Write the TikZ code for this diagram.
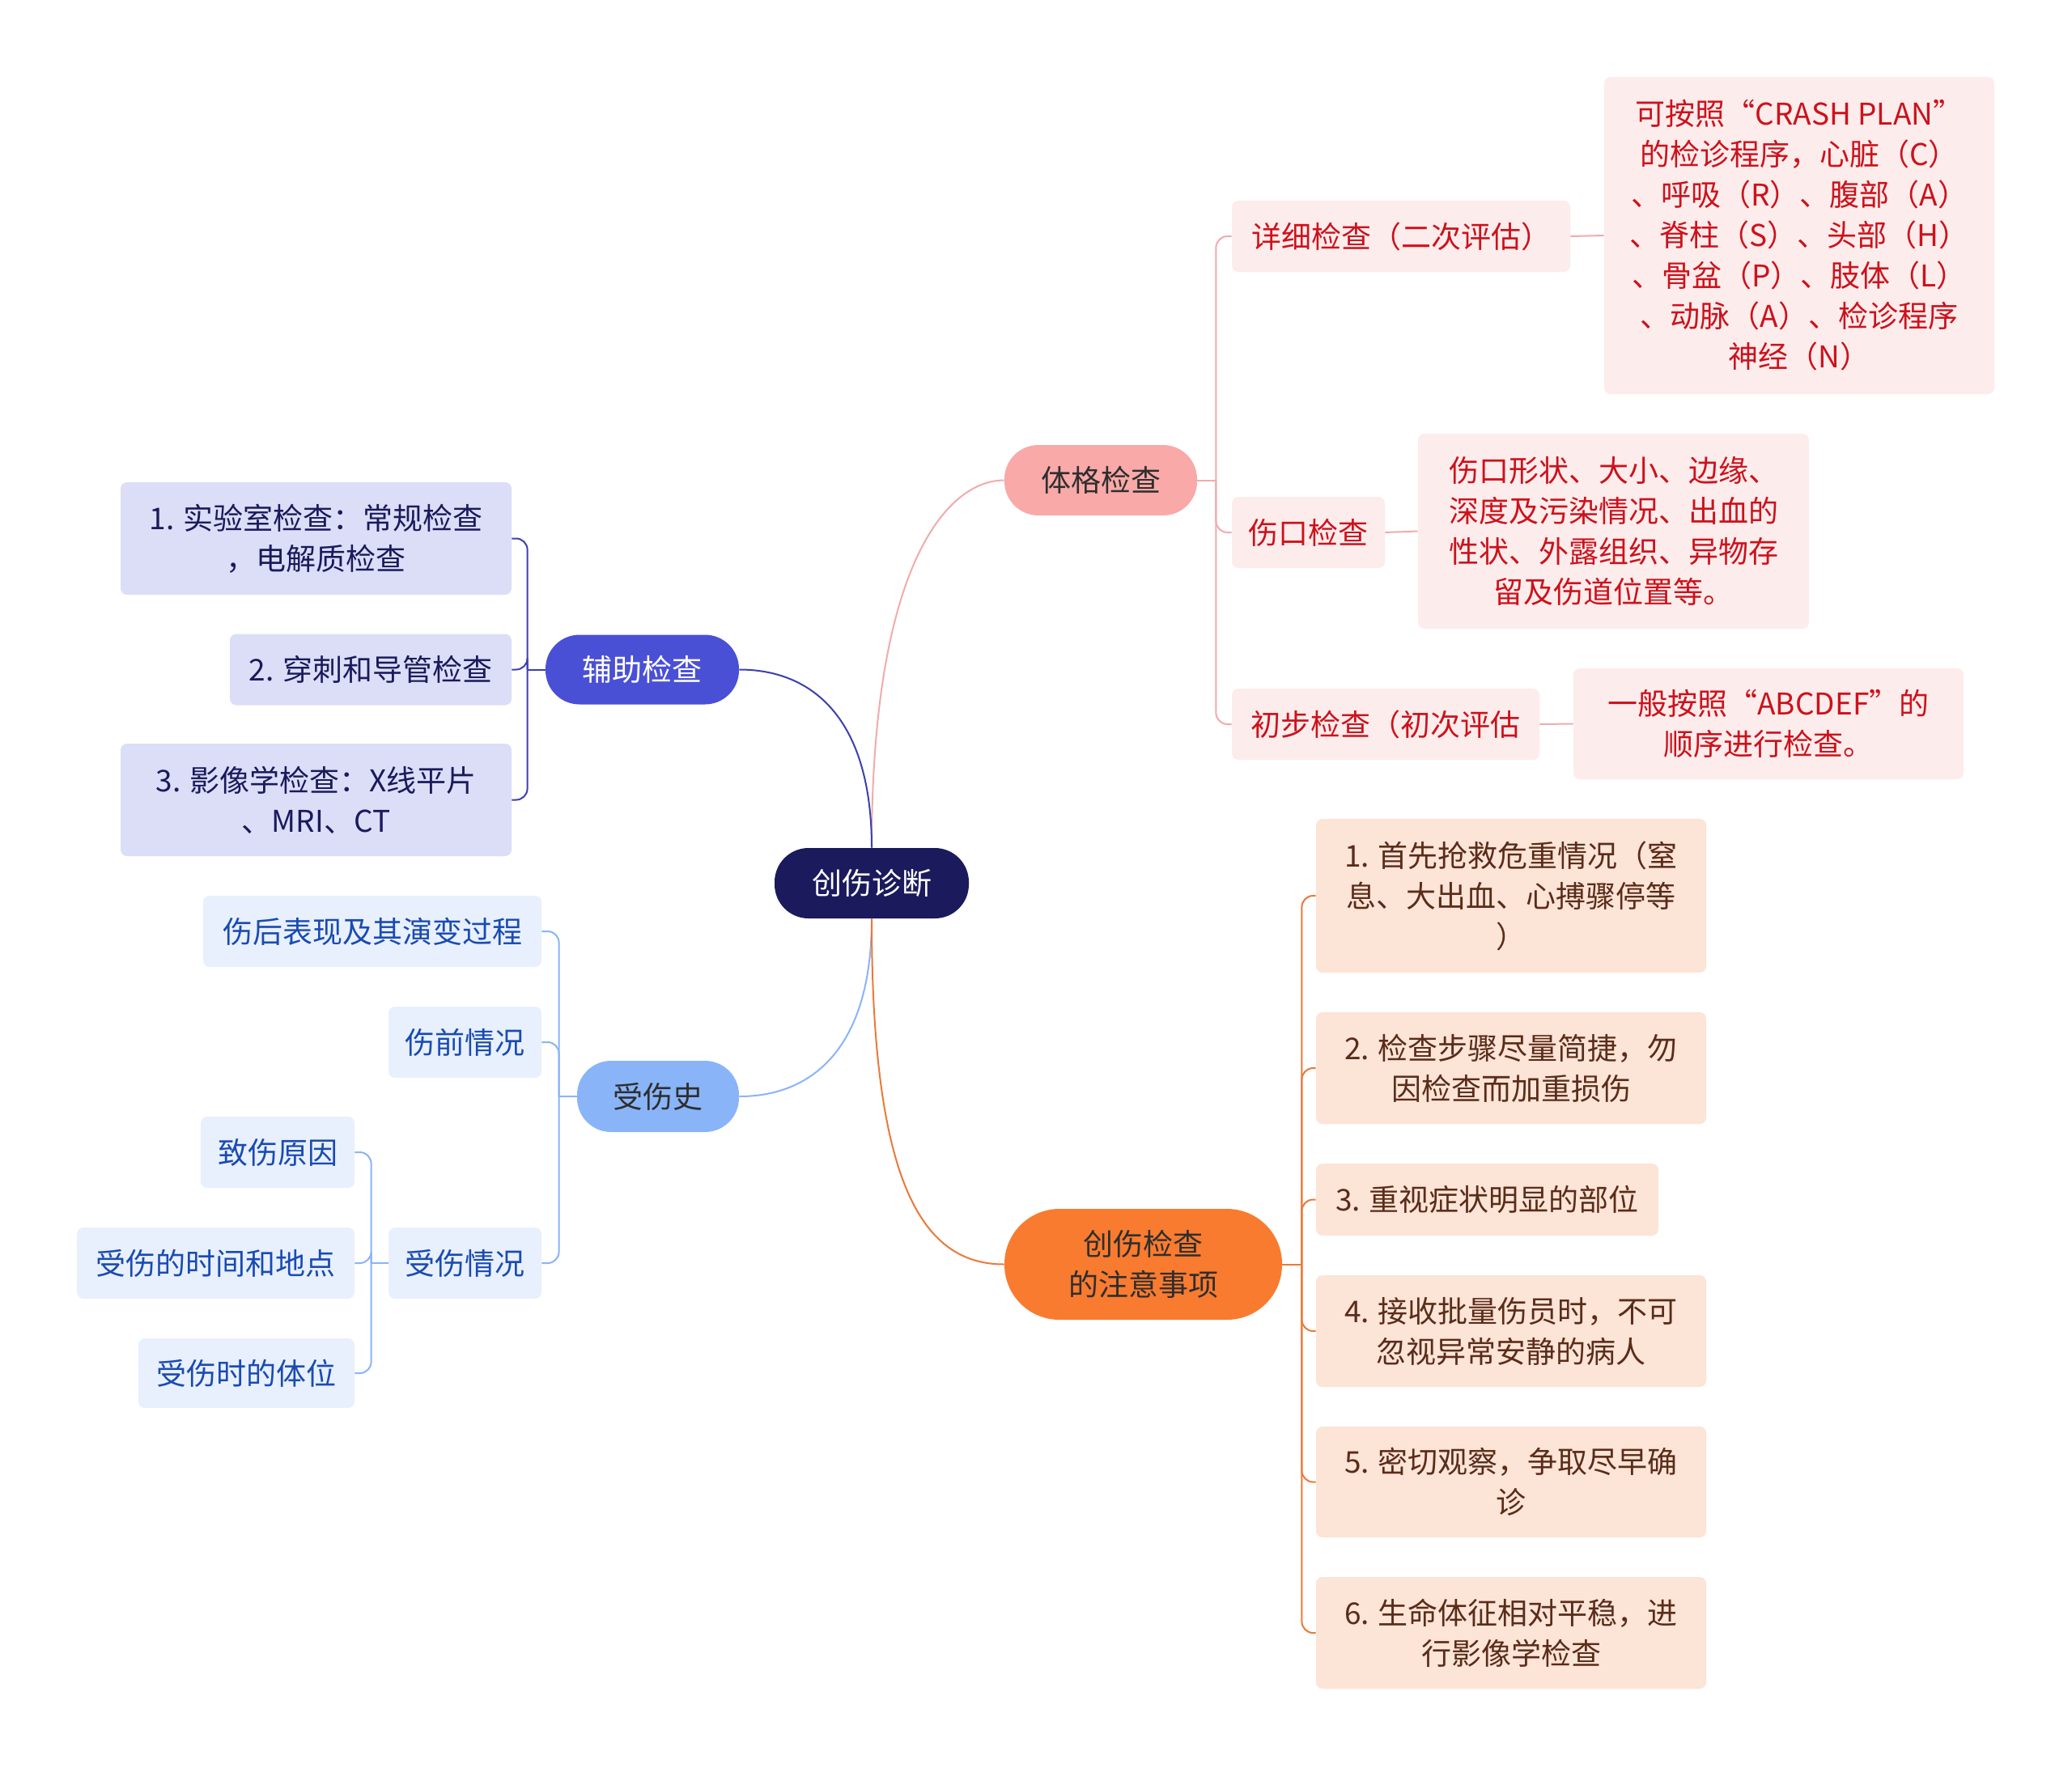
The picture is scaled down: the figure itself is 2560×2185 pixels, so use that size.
\documentclass[tikz,border=0pt]{standalone}
\usepackage{fontspec}
\setmainfont{Noto Sans CJK SC}
\usepackage{xcolor}
\usepackage{tikz}
\usetikzlibrary{positioning}
\definecolor{MapNavy}{HTML}{1B1A5C}
\definecolor{MapInk}{HTML}{2E2E2E}
\definecolor{MapRose}{HTML}{F8A9A8}
\definecolor{MapRoseLine}{HTML}{F2ABAB}
\definecolor{MapRoseFill}{HTML}{FDECEC}
\definecolor{MapRed}{HTML}{CC121C}
\definecolor{MapIndigo}{HTML}{4A50D5}
\definecolor{MapIndigoLine}{HTML}{3C40AE}
\definecolor{MapIndigoFill}{HTML}{DCDEF7}
\definecolor{MapSky}{HTML}{8AB4F8}
\definecolor{MapSkyFill}{HTML}{E8F0FE}
\definecolor{MapBlue}{HTML}{1A4BB0}
\definecolor{MapOrange}{HTML}{F97B2F}
\definecolor{MapOrangeLine}{HTML}{EA7A38}
\definecolor{MapPeach}{HTML}{FCE4D6}
\definecolor{MapBrown}{HTML}{5A2C1A}
\tikzset{
  topic/.style={rounded corners=21pt,align=center,inner sep=0pt,
    font=\fontsize{18.5pt}{25pt}\selectfont},
  leaf/.style={rounded corners=4pt,align=center,inner sep=0pt,
    font=\fontsize{18.5pt}{25pt}\selectfont},
  redleaf/.style={leaf,fill=MapRoseFill,text=MapRed},
  navyleaf/.style={leaf,fill=MapIndigoFill,text=MapNavy},
  blueleaf/.style={leaf,fill=MapSkyFill,text=MapBlue},
  peachleaf/.style={leaf,fill=MapPeach,text=MapBrown},
  link/.style={line width=1pt,rounded corners=7pt},
}
\begin{document}
\begin{tikzpicture}[x=0.5pt,y=-0.5pt]
  \fill[white] (0,0) rectangle (2560,2185);
  \useasboundingbox (0,0) rectangle (2560,2185);
  % main topics
  \node[topic,fill=MapNavy,text=white,minimum width=120pt,minimum height=43.5pt] (root) at (1077,1091.5) {创伤诊断};
  \node[topic,fill=MapRose,text=MapInk,minimum width=119pt,minimum height=43.5pt] (tige) at (1360,593.5) {体格检查};
  \node[topic,fill=MapIndigo,text=white,minimum width=119.5pt,minimum height=43pt] (fuzhu) at (793.5,827.5) {辅助检查};
  \node[topic,fill=MapSky,text=MapInk,minimum width=100pt,minimum height=44pt] (shishi) at (813,1355) {受伤史};
  \node[topic,rounded corners=34pt,fill=MapOrange,text=MapInk,minimum width=171.5pt,minimum height=68.5pt] (zhuyi) at (1412.5,1562.5) {创伤检查\\的注意事项};
  % physical examination
  \node[redleaf,minimum width=209pt,minimum height=44pt] (xiangxi) at (1731,292) {详细检查（二次评估）};
  \node[redleaf,minimum width=241pt,minimum height=196pt] (crash) at (2223,291) {可按照“CRASH PLAN”\\的检诊程序，心脏（C）\\、呼吸（R）、腹部（A）\\、脊柱（S）、头部（H）\\、骨盆（P）、肢体（L）\\、动脉（A）、检诊程序\\神经（N）};
  \node[redleaf,minimum width=94.5pt,minimum height=44pt] (shangkou) at (1616.5,658) {伤口检查};
  \node[redleaf,minimum width=241.5pt,minimum height=120.5pt] (shangkoudesc) at (1993.5,656.5) {伤口形状、大小、边缘、\\深度及污染情况、出血的\\性状、外露组织、异物存\\留及伤道位置等。};
  \node[redleaf,minimum width=190pt,minimum height=44pt] (chubu) at (1712,895) {初步检查（初次评估};
  \node[redleaf,minimum width=241pt,minimum height=68.5pt] (abcdef) at (2185,894.5) {一般按照“ABCDEF”的\\顺序进行检查。};
  % auxiliary examination
  \node[navyleaf,minimum width=241.5pt,minimum height=69.5pt] (shiyan) at (390.5,665.5) {1. 实验室检查：常规检查\\，电解质检查};
  \node[navyleaf,minimum width=174pt,minimum height=44pt] (chuanci) at (458,827.5) {2. 穿刺和导管检查};
  \node[navyleaf,minimum width=241.5pt,minimum height=69.5pt] (yingxiang) at (390.5,988.5) {3. 影像学检查：X线平片\\、MRI、CT};
  % injury history
  \node[blueleaf,minimum width=209pt,minimum height=44pt] (shanghou) at (460,1151) {伤后表现及其演变过程};
  \node[blueleaf,minimum width=94.5pt,minimum height=44pt] (shangqian) at (574.5,1288) {伤前情况};
  \node[blueleaf,minimum width=94.5pt,minimum height=44pt] (qingkuang) at (574.5,1561) {受伤情况};
  \node[blueleaf,minimum width=95pt,minimum height=44pt] (yuanyin) at (343,1424) {致伤原因};
  \node[blueleaf,minimum width=171.5pt,minimum height=44pt] (shijian) at (266.5,1561) {受伤的时间和地点};
  \node[blueleaf,minimum width=133.5pt,minimum height=43pt] (tiwei) at (304.5,1697) {受伤时的体位};
  % notes
  \node[peachleaf,minimum width=241pt,minimum height=95pt] (zhu1) at (1867,1107) {1. 首先抢救危重情况（窒\\息、大出血、心搏骤停等\\）};
  \node[peachleaf,minimum width=241pt,minimum height=69pt] (zhu2) at (1867,1320) {2. 检查步骤尽量简捷，勿\\因检查而加重损伤};
  \node[peachleaf,minimum width=211.5pt,minimum height=44.5pt] (zhu3) at (1837.5,1482.5) {3. 重视症状明显的部位};
  \node[peachleaf,minimum width=241pt,minimum height=69pt] (zhu4) at (1867,1645) {4. 接收批量伤员时，不可\\忽视异常安静的病人};
  \node[peachleaf,minimum width=241pt,minimum height=68.5pt] (zhu5) at (1867,1831.5) {5. 密切观察，争取尽早确\\诊};
  \node[peachleaf,minimum width=241pt,minimum height=69pt] (zhu6) at (1867,2018) {6. 生命体征相对平稳，进\\行影像学检查};
  % connectors from the root
  \draw[link,MapRoseLine] (root.north) .. controls +(0,-350) and +(-70,0) .. (tige.west);
  \draw[link,MapIndigoLine] (root.north) .. controls +(0,-160) and +(90,0) .. (fuzhu.east);
  \draw[link,MapSky] (root.south) .. controls +(0,160) and +(90,0) .. (shishi.east);
  \draw[link,MapOrangeLine] (root.south) .. controls +(0,330) and +(-100,0) .. (zhuyi.west);
  % fork points
  \path (tige.east) ++(23,0) coordinate (tigefork);
  \path (fuzhu.west) ++(-22,0) coordinate (fuzhufork);
  \path (shishi.west) ++(-22,0) coordinate (shishifork);
  \path (qingkuang.west) ++(-21,0) coordinate (qingkuangfork);
  \path (zhuyi.east) ++(24,0) coordinate (zhuyifork);
  % branch forks
  \draw[link,MapRoseLine] (tige.east) -- (tigefork);
  \foreach \kid in {xiangxi,shangkou,chubu}
    \draw[link,MapRoseLine] (tigefork) |- (\kid.west);
  \draw[link,MapRoseLine] (xiangxi.east) -- (crash.west);
  \draw[link,MapRoseLine] (shangkou.east) -- (shangkoudesc.west);
  \draw[link,MapRoseLine] (chubu.east) -- (abcdef.west);
  \draw[link,MapIndigoLine] (fuzhu.west) -- (fuzhufork);
  \foreach \kid in {shiyan,chuanci,yingxiang}
    \draw[link,MapIndigoLine] (fuzhufork) |- (\kid.east);
  \draw[link,MapSky] (shishi.west) -- (shishifork);
  \foreach \kid in {shanghou,shangqian,qingkuang}
    \draw[link,MapSky] (shishifork) |- (\kid.east);
  \draw[link,MapSky] (qingkuang.west) -- (qingkuangfork);
  \foreach \kid in {yuanyin,shijian,tiwei}
    \draw[link,MapSky] (qingkuangfork) |- (\kid.east);
  \draw[link,MapOrangeLine] (zhuyi.east) -- (zhuyifork);
  \foreach \kid in {zhu1,zhu2,zhu3,zhu4,zhu5,zhu6}
    \draw[link,MapOrangeLine] (zhuyifork) |- (\kid.west);
\end{tikzpicture}
\end{document}
